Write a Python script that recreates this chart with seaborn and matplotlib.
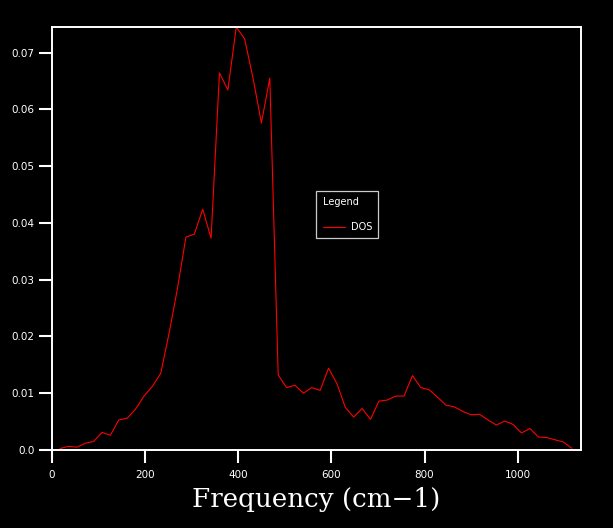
import numpy as np
import pandas as pd
import seaborn as sns
import matplotlib
matplotlib.use("Agg")
import matplotlib.pyplot as plt

# density of states (grid step 18 cm-1)
freq = [18 * k for k in range(1, 63)]
dos = [0.00026, 0.00065, 0.0005, 0.0012, 0.0015, 0.0031, 0.0026, 0.0053, 0.0056, 0.0072,
       0.0095, 0.0112, 0.0135, 0.0206, 0.0285, 0.0375, 0.0380, 0.0424, 0.0373, 0.0664,
       0.0634, 0.0745, 0.0724, 0.0655, 0.0576, 0.0655, 0.0132, 0.0110, 0.0114, 0.0100,
       0.0110, 0.0105, 0.0144, 0.0117, 0.0075, 0.0058, 0.0073, 0.0054, 0.0086, 0.0088,
       0.0095, 0.0095, 0.0131, 0.0110, 0.0106, 0.0093, 0.0079, 0.0076, 0.0068, 0.0062,
       0.0063, 0.0053, 0.0044, 0.0051, 0.0045, 0.0030, 0.0038, 0.0023, 0.0022, 0.0018,
       0.0014, 0.0003]
xticks = [0, 200, 400, 600, 800, 1000]
yticks = [0.0, 0.01, 0.02, 0.03, 0.04, 0.05, 0.06, 0.07]
ytick_labels = ["0.0", "0.01", "0.02", "0.03", "0.04", "0.05", "0.06", "0.07"]

df = pd.DataFrame({"freq": freq, "dos": dos})

sns.set_style("dark", {"axes.facecolor": "black", "figure.facecolor": "black",
                       "axes.edgecolor": "white", "text.color": "white",
                       "xtick.color": "white", "ytick.color": "white",
                       "axes.labelcolor": "white", "axes.grid": False,
                       "xtick.bottom": True, "ytick.left": True})
plt.rcParams["font.family"] = ["DejaVu Sans"]

fig = plt.figure(figsize=(6.13, 5.28), dpi=100, facecolor="black")
ax = fig.add_axes([0.0843, 0.1477, 0.863, 0.8012])

sns.lineplot(data=df, x="freq", y="dos", color="red", linewidth=0.8, label="DOS", ax=ax)

ax.set_xlim(0, 1135)
ax.set_ylim(0, 0.0745)
ax.set_xticks(xticks)
ax.set_yticks(yticks)
ax.set_yticklabels(ytick_labels)
ax.tick_params(axis="both", direction="out", length=9.5, width=1.5, colors="white",
               labelsize=7.5, bottom=True, left=True)
ax.tick_params(axis="y", pad=3)
ax.tick_params(axis="x", pad=5)
for s in ax.spines.values():
    s.set_color("white")
    s.set_linewidth(1.4)

ax.set_ylabel("")
ax.set_xlabel("Frequency (cm\u22121)", family="DejaVu Serif", fontsize=18.8,
              color="white", labelpad=5)

leg = ax.legend(loc="upper left", bbox_to_anchor=(0.5, 0.612), title="Legend",
                fontsize=7, title_fontsize=7, frameon=True, fancybox=False,
                handlelength=2.3, handletextpad=0.6, borderpad=0.65,
                labelspacing=1.5, borderaxespad=0, alignment="left")
leg.get_frame().set_facecolor("black")
leg.get_frame().set_edgecolor("white")
leg.get_frame().set_linewidth(0.9)
for t in leg.get_texts():
    t.set_color("white")
leg.get_title().set_color("white")

fig.savefig("out.png", dpi=100, facecolor="black")
